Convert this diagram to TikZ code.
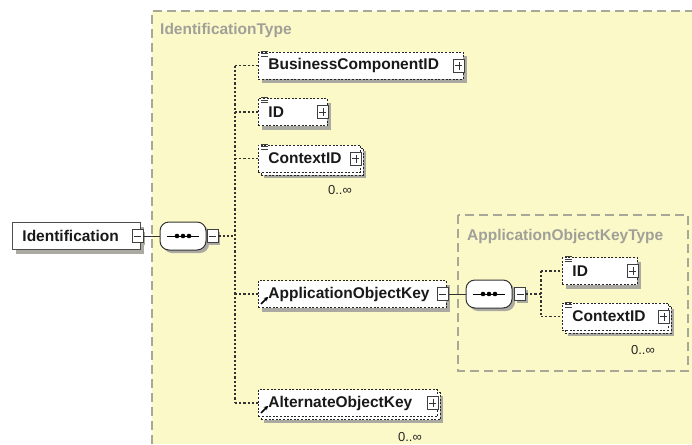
\documentclass[tikz,border=0pt]{standalone}
\usepackage{fontspec}
\setmainfont{Liberation Sans}
\usetikzlibrary{arrows.meta,calc}
\definecolor{regfill}{HTML}{FCF9C8}
\definecolor{regline}{HTML}{A8A898}
\definecolor{labgray}{HTML}{A0A098}
\definecolor{shadecol}{RGB}{170,170,162}
\tikzset{
  x=1pt, y=-1pt,
  region/.style={draw=regline, line width=1.2pt, dash pattern=on 9pt off 5pt, fill=regfill},
  reglabel/.style={anchor=west, text=labgray, font=\fontsize{15.5}{18}\selectfont\bfseries, inner sep=0pt},
  elembase/.style={anchor=west, minimum height=27pt, inner xsep=10pt, inner ysep=0pt,
     font=\fontsize{15.5}{18}\selectfont\bfseries, align=left, text=black!90},
  optelem/.style={elembase, fill=white, draw=black!85, line width=0.9pt, dash pattern=on 2pt off 1.6pt},
  reqelem/.style={elembase, fill=white, draw=black!70, line width=0.9pt},
  togbox/.style={rectangle, draw=black!75, line width=0.9pt, fill=white, minimum width=11pt, minimum height=13pt, inner sep=0pt},
  plusbox/.style={togbox, path picture={\draw[black!80, line width=0.8pt]
     ([xshift=-3.5pt]path picture bounding box.center) -- ([xshift=3.5pt]path picture bounding box.center)
     ([yshift=-4pt]path picture bounding box.center) -- ([yshift=4pt]path picture bounding box.center);}},
  minusbox/.style={togbox, path picture={\draw[black!80, line width=0.8pt]
     ([xshift=-3.5pt]path picture bounding box.center) -- ([xshift=3.5pt]path picture bounding box.center);}},
  compositor/.style={rectangle, rounded corners=9pt, minimum width=46pt, minimum height=28pt, inner sep=0pt,
     draw=black!80, line width=1pt, fill=white},
  shadefill/.style={fill=shadecol},
  solidconn/.style={draw=black!80, line width=0.9pt},
  dotconn/.style={draw=black!80, line width=1.1pt, dash pattern=on 2.2pt off 2pt},
  occ/.style={font=\fontsize{13}{15}\selectfont, text=black!85, inner sep=0pt},
}
\newcommand{\multel}[4]{%
  \node[optelem, text width=#3, xshift=3pt, yshift=-3pt] (#1b) at #2 {\phantom{#4}};
  \node[optelem, text width=#3] (#1) at #2 {#4};}
\newcommand{\seqdots}[1]{%
  \draw[black, line width=1pt] ([xshift=-16pt]#1.center) -- ([xshift=16pt]#1.center);
  \fill[black] ([xshift=-6pt]#1.center) circle (2.3pt) (#1.center) circle (2.3pt) ([xshift=6pt]#1.center) circle (2.3pt);}
\newcommand{\simpicon}[1]{%
  \draw[black!75, line width=0.7pt] ([xshift=3pt,yshift=-2pt]#1.north west) -- ++(7,0)
    ([xshift=3pt,yshift=-4.5pt]#1.north west) -- ++(7,0)
    ([xshift=3pt,yshift=0.5pt]#1.north west) -- ++(7,0);}
\newcommand{\refarrow}[1]{%
  \draw[black, line width=1.5pt, -{Stealth[length=4pt,width=4.5pt]}] ([xshift=3pt,yshift=4pt]#1.south west) -- ++(7,-7);}
\begin{document}
\begin{tikzpicture}
\useasboundingbox (0,0) rectangle (692,444);
\fill[white] (0,0) rectangle (692,444);
\fill[regfill] (152,11) rectangle (692,444);
\draw[region, fill=none] (152,444) -- (152,11) -- (692,11);
\draw[region] (458,215) rectangle (688,371);
% shadows
\fill[shadefill] (16,226.5) rectangle (144,253.5);
\fill[shadefill] (262,56) rectangle (467,83);
\fill[shadefill] (262,102.5) rectangle (331,129.5);
\fill[shadefill] (264,151) rectangle (366,178);
\fill[shadefill] (262,284.5) rectangle (450,311.5);
\fill[shadefill] (264,395.5) rectangle (443,422.5);
\fill[shadefill] (566,261.5) rectangle (641,288.5);
\fill[shadefill] (568,309) rectangle (674,336);
\fill[shadefill, rounded corners=9pt] (163,225) rectangle (209,253);
\fill[shadefill, rounded corners=9pt] (469,283) rectangle (515,311);
\foreach \cx/\cy in {137.5/236, 212.5/236, 458/65.5, 322/112, 355/158.5, 442/294, 432/403, 520/294, 632/271, 663/316.5}
  \fill[shadefill] (\cx-3.5,\cy-4.5) rectangle (\cx+7.5,\cy+8.5);

\node[reglabel] (lab1) at (160,30) {IdentificationType};
\node[reglabel] (lab2) at (467,236) {ApplicationObjectKeyType};

% root element
\node[reqelem, text width=108pt] (ident) at (12,236) {Identification};
\node[minusbox] (identm) at (137.5,236) {};
\node[compositor] (seq1) at (183,236) {};
\seqdots{seq1}
\node[minusbox] (seq1m) at (212.5,236) {};
\draw[solidconn] (identm.east) -- (seq1.west);

% children of IdentificationType
\node[optelem, text width=185pt] (bc) at (258,65.5) {BusinessComponentID};
\node[plusbox] (bcp) at ($(bc.east)+(-5,0)$) {};
\node[optelem, text width=49pt] (id1) at (258,112) {ID};
\node[plusbox] (id1p) at ($(id1.east)+(-5,0)$) {};
\multel{ctx1}{(258,158.5)}{82pt}{ContextID}
\node[plusbox] (ctx1p) at ($(ctx1.east)+(-5,0)$) {};
\node[occ] (occ1) at (340,190) {0..∞};
\node[optelem, text width=168pt] (aok) at (258,294) {ApplicationObjectKey};
\node[minusbox] (aokm) at ($(aok.east)+(-4,0)$) {};
\multel{alt}{(258,403)}{159pt}{AlternateObjectKey}
\node[plusbox] (altp) at ($(alt.east)+(-5,0)$) {};
\node[occ] (occ3) at (410,437) {0..∞};

\simpicon{bc}\simpicon{id1}\simpicon{ctx1}
\refarrow{aok}\refarrow{alt}

\coordinate (trunk1) at (235,0);
\draw[dotconn] (seq1m.east) -- (trunk1 |- seq1m.east);
\draw[dotconn] (trunk1 |- bc.west) -- (trunk1 |- alt.west);
\foreach \n in {bc,id1,ctx1,aok,alt} \draw[dotconn] (trunk1 |- \n.west) -- (\n.west);

% ApplicationObjectKeyType content
\node[compositor] (seq2) at (489,294) {};
\seqdots{seq2}
\node[minusbox] (seq2m) at (520,294) {};
\draw[solidconn] (aokm.east) -- (seq2.west);
\node[optelem, text width=55pt] (id2) at (562,271) {ID};
\node[plusbox] (id2p) at ($(id2.east)+(-5,0)$) {};
\multel{ctx2}{(562,316.5)}{86pt}{ContextID}
\node[plusbox] (ctx2p) at ($(ctx2.east)+(-5,0)$) {};
\node[occ] (occ2) at (643,350) {0..∞};
\simpicon{id2}\simpicon{ctx2}
\coordinate (trunk2) at (541,0);
\draw[dotconn] (seq2m.east) -- (trunk2 |- seq2m.east);
\draw[dotconn] (trunk2 |- id2.west) -- (trunk2 |- ctx2.west);
\foreach \n in {id2,ctx2} \draw[dotconn] (trunk2 |- \n.west) -- (\n.west);
\end{tikzpicture}
\end{document}
